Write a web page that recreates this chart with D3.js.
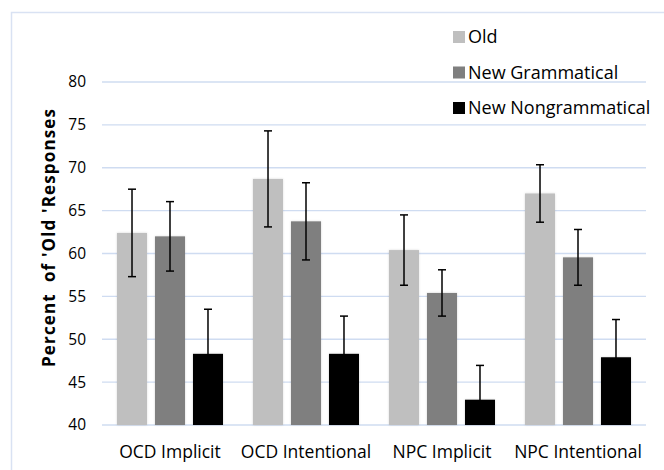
<!DOCTYPE html>
<html>
<head>
<meta charset="utf-8">
<script src="https://cdn.jsdelivr.net/npm/d3@7"></script>
<style>
  body { margin: 0; background: #fff; }
  text { font-family: "Open Sans", "Liberation Sans", sans-serif; fill: #000; }
</style>
</head>
<body>
<script>
const categories = ["OCD Implicit", "OCD Intentional", "NPC Implicit", "NPC Intentional"];
const seriesNames = ["Old", "New Grammatical", "New Nongrammatical"];
const oldValues = [62.4, 68.7, 60.4, 67.0];
const gramValues = [62.0, 63.75, 55.4, 59.55];
const nongramValues = [48.3, 48.3, 42.95, 47.9];
const oldErr = [5.1, 5.6, 4.1, 3.35];
const gramErr = [4.05, 4.5, 2.7, 3.25];
const nongramErr = [5.2, 4.4, 4.0, 4.4];
const yTicks = [40, 45, 50, 55, 60, 65, 70, 75, 80];

const WIDTH = 664;
const HEIGHT = 470;
const colors = ["#bfbfbf", "#7f7f7f", "#000000"];

const values = [oldValues, gramValues, nongramValues];
const errs = [oldErr, gramErr, nongramErr];

// one row per bar
let rows = [];
categories.forEach((c, i) => {
  seriesNames.forEach((s, j) => {
    rows.push({ cat: c, series: s, idx: j, value: values[j][i], err: errs[j][i] });
  });
});

const svg = d3.select('body')
  .append('svg')
  .attr('width', WIDTH)
  .attr('height', HEIGHT);

// frame
svg.append('rect')
  .attr('x', 11.5)
  .attr('y', 12.5)
  .attr('width', WIDTH)
  .attr('height', HEIGHT)
  .attr('fill', 'none')
  .attr('stroke', '#d9e2f3')
  .attr('stroke-width', 1.5);

const x0 = d3.scaleBand()
  .domain(categories)
  .range([102, 646]);

const x1 = d3.scaleBand()
  .domain(seriesNames)
  .range([0, x0.bandwidth()])
  .paddingInner(0.21)
  .paddingOuter(0.395);

const y = d3.scaleLinear()
  .domain([40, 80])
  .range([425, 82]);

// gridlines
svg.append('g')
  .selectAll('line')
  .data(yTicks)
  .enter()
  .append('line')
  .attr('x1', 102)
  .attr('x2', 646)
  .attr('y1', d => y(d))
  .attr('y2', d => y(d))
  .attr('stroke', '#cfdcf1')
  .attr('stroke-width', 1.3);

// y tick labels
svg.append('g')
  .selectAll('text')
  .data(yTicks)
  .enter()
  .append('text')
  .attr('x', 86)
  .attr('y', d => y(d))
  .attr('dy', '0.35em')
  .attr('text-anchor', 'end')
  .attr('font-size', '15.5px')
  .text(d => d);

// bar shadow
const defs = svg.append('defs');
const filt = defs.append('filter').attr('id', 'soft')
  .attr('x', '-20%').attr('y', '-5%').attr('width', '140%').attr('height', '110%');
filt.append('feGaussianBlur').attr('in', 'SourceAlpha').attr('stdDeviation', 1.2).attr('result', 'b');
filt.append('feFlood').attr('flood-color', '#000').attr('flood-opacity', 0.15);
filt.append('feComposite').attr('in2', 'b').attr('operator', 'in').attr('result', 's');
const fm = filt.append('feMerge');
fm.append('feMergeNode').attr('in', 's');
fm.append('feMergeNode').attr('in', 'SourceGraphic');

defs.append('clipPath').attr('id', 'plot')
  .append('rect')
  .attr('x', 102).attr('y', 0)
  .attr('width', 544).attr('height', y(40));

// bars
svg.append('g')
  .selectAll('rect')
  .data(rows)
  .enter()
  .append('rect')
  .attr('x', d => x0(d.cat) + x1(d.series))
  .attr('y', d => y(d.value))
  .attr('width', x1.bandwidth())
  .attr('height', d => y(40) - y(d.value))
  .attr('fill', d => colors[d.idx])
  .attr('filter', 'url(#soft)');

// error bars
const eb = svg.append('g')
  .attr('clip-path', 'url(#plot)')
  .selectAll('g')
  .data(rows)
  .enter()
  .append('g')
  .attr('stroke', '#000')
  .attr('stroke-width', 1.5);

const cx = d => x0(d.cat) + x1(d.series) + x1.bandwidth() / 2;

eb.append('line')
  .attr('x1', cx).attr('x2', cx)
  .attr('y1', d => y(d.value + d.err))
  .attr('y2', d => y(d.value - d.err));
eb.append('line')
  .attr('x1', d => cx(d) - 4).attr('x2', d => cx(d) + 4)
  .attr('y1', d => y(d.value + d.err))
  .attr('y2', d => y(d.value + d.err));
eb.append('line')
  .attr('x1', d => cx(d) - 4).attr('x2', d => cx(d) + 4)
  .attr('y1', d => y(d.value - d.err))
  .attr('y2', d => y(d.value - d.err));

// x labels
svg.append('g')
  .selectAll('text')
  .data(categories)
  .enter()
  .append('text')
  .attr('x', d => x0(d) + x0.bandwidth() / 2)
  .attr('y', 452)
  .attr('dy', '0.35em')
  .attr('text-anchor', 'middle')
  .attr('font-size', '17.5px')
  .text(d => d);

// y label
svg.append('text')
  .attr('transform', 'translate(49,238) rotate(-90)')
  .attr('dy', '0.35em')
  .attr('text-anchor', 'middle')
  .attr('font-size', '17px')
  .attr('font-weight', 'bold')
  .attr('textLength', 258)
  .attr('lengthAdjust', 'spacing')
  .style('white-space', 'pre')
  .text("Percent  of 'Old 'Responses");

// legend
const legend = svg.append('g')
  .selectAll('g')
  .data(seriesNames)
  .enter()
  .append('g')
  .attr('transform', (d, i) => 'translate(453,' + (37 + i * 35.5) + ')');

legend.append('rect')
  .attr('x', 0)
  .attr('y', -6)
  .attr('width', 12)
  .attr('height', 12)
  .attr('fill', (d, i) => colors[i]);

legend.append('text')
  .attr('x', 15)
  .attr('dy', '0.35em')
  .attr('font-size', '18px')
  .text(d => d);
</script>
</body>
</html>
